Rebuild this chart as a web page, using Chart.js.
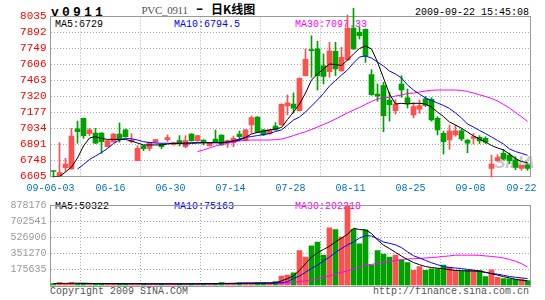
<!DOCTYPE html>
<html>
<head>
<meta charset="utf-8">
<script src="https://cdn.jsdelivr.net/npm/chart.js@4.4.1/dist/chart.umd.min.js"></script>
<style>
  html, body { margin: 0; padding: 0; background: #fff; }
  #wrap { position: relative; width: 545px; height: 300px; overflow: hidden; }
  .t { position: absolute; white-space: nowrap; font-family: "Liberation Mono", monospace; font-size: 10px; line-height: 10px; }
  canvas { position: absolute; left: 0; }
  #priceChart { top: 0; }
  #volumeChart { top: 195px; }
</style>
</head>
<body>
<div id="wrap">
  <div class="t" style="left:51px;top:6px;font-size:13px;line-height:13px;font-weight:bold;letter-spacing:3.2px;">v0911</div>
  <div class="t" style="left:141.5px;top:4.5px;font-family:'Liberation Serif',serif;font-size:11px;line-height:11px;letter-spacing:-0.3px;color:#555;">PVC_0911</div>
  <div class="t" style="left:196px;top:3px;font-family:'Liberation Sans',sans-serif;font-size:12px;line-height:12px;font-weight:bold;transform:scaleX(1.8);transform-origin:left;">-</div>
  <div class="t" style="left:211px;top:3px;font-family:'Noto Sans CJK SC',sans-serif;font-size:12px;line-height:12px;font-weight:bold;">日K线图</div>
  <div class="t" style="left:415px;top:8.3px;">2009-09-22 15:45:08</div>

  <div class="t" style="left:55px;top:19.5px;color:#000;">MA5:6729</div>
  <div class="t" style="left:174px;top:19.5px;color:#0000ff;">MA10:6794.5</div>
  <div class="t" style="left:295px;top:19.5px;color:#ff00ff;">MA30:7097.33</div>

  <div class="t" style="left:55px;top:201.5px;color:#000;">MA5:50322</div>
  <div class="t" style="left:174px;top:201.5px;color:#0000ff;">MA10:75163</div>
  <div class="t" style="left:295px;top:201.5px;color:#ff00ff;">MA30:202218</div>

  <div class="t" style="left:494px;top:154px;font-family:'Liberation Sans Narrow','Liberation Sans',sans-serif;font-size:17px;line-height:17px;font-weight:bold;font-style:italic;color:#c8c8c8;">SINA</div>

  <div class="t" style="left:50px;top:286.5px;color:#555;">Copyright 2009 SINA.COM</div>
  <div class="t" style="left:373px;top:286.5px;color:#555;">http://finance.sina.com.cn</div>

  <canvas id="priceChart" width="545" height="195"></canvas>
  <canvas id="volumeChart" width="545" height="105"></canvas>
</div>

<script>
// trading days shown, 2009-06-03 .. 2009-09-22
const dates = [
  "06-03","06-04","06-05","06-08","06-09","06-10","06-11","06-12","06-15","06-16",
  "06-17","06-18","06-19","06-22","06-23","06-24","06-25","06-26","06-29","06-30",
  "07-01","07-02","07-03","07-06","07-07","07-08","07-09","07-10","07-13","07-14",
  "07-15","07-16","07-17","07-20","07-21","07-22","07-23","07-24","07-27","07-28",
  "07-29","07-30","07-31","08-03","08-04","08-05","08-06","08-07","08-10","08-11",
  "08-12","08-13","08-14","08-17","08-18","08-19","08-20","08-21","08-24","08-25",
  "08-26","08-27","08-28","08-31","09-01","09-02","09-03","09-04","09-07","09-08",
  "09-09","09-10","09-11","09-14","09-15","09-16","09-17","09-18","09-21","09-22"
];

const opens = [
  6655,6610,6685,6672,7030,7125,6988,6994,6994,6871,
  6913,6985,7021,6917,6746,6878,6857,6911,6893,6934,
  6889,6925,6871,6985,6925,6931,6880,6940,6976,6907,
  6907,6985,6925,7065,7137,7021,6985,7056,7065,7235,
  7253,7193,7507,7740,7745,7595,7542,7724,7549,7646,
  7932,7894,7920,7515,7342,7417,7289,7193,7432,7307,
  7155,7206,7300,7295,7125,6991,6931,6976,7014,6931,
  6946,6955,6946,6678,6746,6812,6797,6752,6678,6708
];
const highs = [
  6656,6907,6768,7036,7101,7128,7036,7036,6998,6930,
  6990,7083,7030,6988,6880,6880,6913,6938,6898,6976,
  6910,6970,6970,6988,6973,6934,6910,7021,6979,6931,
  6967,7012,7025,7146,7140,7025,7025,7086,7255,7333,
  7352,7487,7745,7863,7813,7700,7804,7804,7760,8048,
  8108,7940,7925,7560,7432,7447,7357,7292,7506,7387,
  7265,7290,7320,7310,7140,7010,7065,7065,7030,6935,
  6990,6970,6960,6797,6800,6848,6815,6780,6700,6720
];
const lows = [
  6600,6605,6650,6670,6902,6946,6970,6900,6812,6868,
  6910,6911,6955,6907,6746,6836,6836,6908,6854,6918,
  6885,6878,6862,6920,6918,6887,6876,6912,6884,6866,
  6871,6925,6922,6991,6998,6970,6982,7018,7062,7155,
  7172,7190,7503,7492,7378,7432,7492,7507,7546,7640,
  7740,7834,7625,7330,7277,7005,7100,7164,7313,7217,
  7130,7170,7230,7100,6976,6806,6848,6965,6925,6818,
  6895,6900,6900,6600,6740,6750,6720,6665,6660,6660
];
const closes = [
  6650,6640,6717,6967,7005,6970,7021,6902,6917,6925,
  6985,6940,6961,6931,6857,6854,6911,6935,6871,6952,
  6907,6907,6925,6925,6970,6916,6907,6916,6887,6925,
  6946,6961,7021,7131,7000,6976,7021,7021,7251,7264,
  7215,7483,7653,7730,7507,7500,7729,7566,7671,7932,
  7745,7863,7685,7336,7322,7148,7247,7253,7378,7259,
  7229,7238,7240,7110,7021,6916,7014,7014,6940,6902,
  6961,6922,6911,6717,6773,6759,6746,6687,6708,6678
];

const ma5 = [
  6605,6605,6645,6690,6770,6878,6949,6961,6945,6937,
  6937,6936,6936,6922,6904,6887,6887,6887,6887,6895,
  6902,6902,6904,6907,6907,6907,6907,6907,6907,6913,
  6922,6931,6954,6985,6998,7009,7021,7030,7043,7114,
  7181,7253,7351,7467,7521,7566,7610,7606,7597,7646,
  7700,7749,7771,7745,7628,7485,7342,7253,7259,7253,
  7259,7259,7253,7226,7181,7141,7092,7065,7036,7003,
  6967,6940,6913,6882,6860,6842,6806,6765,6738,6729
];
const ma10 = [
  null,null,null,null,6672,6712,6757,6788,6820,6855,
  6900,6931,6946,6942,6931,6916,6909,6904,6902,6902,
  6900,6900,6895,6900,6904,6907,6907,6907,6907,6913,
  6925,6940,6955,6962,6971,6980,6989,7007,7021,7065,
  7110,7137,7181,7235,7289,7347,7414,7463,7512,7557,
  7619,7673,7682,7664,7628,7592,7548,7521,7485,7423,
  7378,7342,7307,7284,7262,7240,7213,7173,7128,7074,
  7047,7016,6989,6958,6927,6895,6851,6828,6812,6794.5
];
const ma30 = [
  null,null,null,null,null,null,null,null,null,null,
  null,null,null,null,null,null,null,null,null,null,
  null,null,null,null,6828,6842,6860,6878,6891,6902,
  6913,6922,6929,6931,6931,6931,6931,6934,6940,6954,
  6971,6989,7005,7025,7047,7070,7092,7119,7146,7173,
  7199,7222,7249,7275,7298,7307,7313,7324,7333,7347,
  7351,7360,7369,7375,7378,7378,7378,7378,7374,7365,
  7351,7336,7320,7302,7280,7249,7217,7177,7139,7097.33
];

const volumes = [
  20000,32000,18000,33000,20000,22000,18000,19000,20000,17000,
  18000,20000,19000,18000,20000,18000,17000,18000,19000,18000,
  17000,20000,18000,20000,19000,21000,22000,19000,33000,18000,
  20000,28000,28000,27000,28000,28000,27000,44000,103000,114000,
  138000,382000,310000,434000,475000,331000,630000,610000,527000,870000,
  613000,455000,606000,224000,382000,344000,310000,331000,276000,251000,
  165000,207000,165000,183000,183000,224000,200000,165000,158000,165000,
  165000,165000,96000,172000,90000,76000,73000,69000,69000,55000
];
const volMa5 = [
  21000,23000,23000,24000,25000,24000,22000,20000,20000,19000,
  19000,19000,19000,19000,19000,19000,18000,18000,18000,18000,
  18000,18000,18000,19000,19000,20000,20000,21000,23000,23000,
  24000,26000,27000,27000,28000,28000,28000,30000,50000,75000,
  105000,165000,238000,310000,356000,393000,429000,475000,517000,558000,
  625000,610000,606000,568000,496000,441000,403000,362000,320000,284000,
  251000,227000,207000,196000,189000,183000,172000,165000,162000,158000,
  158000,155000,145000,129000,114000,96000,83000,67000,57000,50322
];
const volMa10 = [
  null,null,null,null,22000,23000,23000,22000,22000,22000,
  21000,21000,20000,20000,20000,19000,19000,19000,19000,19000,
  19000,18000,18000,18000,18000,19000,19000,19000,20000,20000,
  21000,22000,23000,24000,25000,25000,26000,27000,31000,41000,
  77000,103000,145000,186000,222000,269000,310000,362000,403000,444000,
  475000,517000,544000,540000,511000,475000,460000,444000,413000,367000,
  325000,300000,274000,248000,227000,207000,196000,191000,184000,176000,
  168000,155000,142000,131000,124000,111000,98000,90000,83000,75163
];
const volMa30 = [
  null,null,null,null,null,null,null,null,null,null,
  null,null,null,null,null,null,null,null,null,null,
  null,null,null,null,19000,19000,20000,20000,21000,21000,
  21000,21000,22000,22000,22000,22000,22000,23000,24000,27000,
  36000,41000,52000,62000,75000,90000,103000,124000,145000,160000,
  181000,204000,220000,230000,241000,251000,261000,272000,284000,289000,
  292000,296000,300000,305000,310000,317000,323000,331000,331000,331000,
  331000,329000,323000,317000,310000,300000,284000,265000,238000,202218
];

const priceTicks = [6605, 6748, 6891, 7034, 7177, 7320, 7463, 7606, 7749, 7892, 8035];
const volumeTicks = [175635, 351270, 526906, 702541, 878176];
const xTickLabels = ["09-06-03", "06-16", "06-30", "07-14", "07-28", "08-11", "08-25", "09-08", "09-22"];
const xTickSlots = [0, 10, 20, 30, 40, 50, 60, 70, 78.5];

const RED = "#ff5050";
const GREEN = "#00a000";
const GRID = "#a8a8a8";
const MONO = "'Liberation Mono', monospace";

Chart.defaults.font.family = MONO;

const slot = i => i + 0.5;
const points = arr => arr.map((v, i) => ({ x: slot(i), y: v }));
const candleColors = opens.map((o, i) => closes[i] >= o ? RED : GREEN);

/* plot box round the chart area */
const framePlugin = {
  id: "frame",
  beforeDatasetsDraw(chart) {
    const { ctx, chartArea: a } = chart;
    ctx.save();
    ctx.strokeStyle = "#999";
    ctx.lineWidth = 1;
    ctx.strokeRect(Math.floor(a.left) + 0.5, Math.floor(a.top) + 0.5,
      Math.round(a.right - a.left), Math.round(a.bottom - a.top));
    ctx.restore();
  }
};

function maLine(data, color) {
  return {
    type: "line",
    data: points(data),
    borderColor: color,
    borderWidth: 1,
    pointRadius: 0,
    tension: 0,
    order: 0
  };
}

function xScale(showLabels, height) {
  return {
    type: "linear",
    min: 0,
    max: dates.length,
    offset: false,
    afterBuildTicks: s => { s.ticks = xTickSlots.map(v => ({ value: v })); },
    afterFit: s => { s.height = height; },
    grid: {
      color: c => (c.tick && c.tick.value > 0 && c.tick.value < 75) ? GRID : "transparent",
      drawTicks: false
    },
    border: { display: false, dash: [1, 2] },
    ticks: {
      display: showLabels,
      autoSkip: false,
      maxRotation: 0,
      padding: 6,
      color: "#0070c0",
      font: { family: MONO, size: 10 },
      callback: (v, k) => xTickLabels[k]
    }
  };
}

function yScale(min, max, tickValues, color, size) {
  return {
    min: min,
    max: max,
    afterBuildTicks: s => { s.ticks = tickValues.map(v => ({ value: v })); },
    afterFit: s => { s.width = 50.5; },
    grid: {
      color: c => (c.tick && c.tick.value > min && c.tick.value < max) ? GRID : "transparent",
      drawTicks: false
    },
    border: { display: false, dash: [1, 2] },
    ticks: {
      autoSkip: false,
      padding: 4,
      color: color,
      font: { family: MONO, size: size },
      callback: v => String(v)
    }
  };
}

const baseOptions = {
  responsive: false,
  animation: false,
  devicePixelRatio: 1,
  events: [],
  plugins: { legend: { display: false }, tooltip: { enabled: false } }
};

/* ================================
   PRICE PANEL (candles + MA)
================================ */
new Chart(document.getElementById("priceChart"), {
  type: "bar",
  data: {
    datasets: [
      maLine(ma5, "#000000"),
      maLine(ma10, "#0000ff"),
      maLine(ma30, "#ff00ff"),
      {
        data: opens.map((o, i) => ({ x: slot(i), y: [o, closes[i]] })),
        backgroundColor: candleColors,
        barThickness: 5,
        minBarLength: 1,
        grouped: false,
        order: 1
      },
      {
        data: lows.map((l, i) => ({ x: slot(i), y: [l, highs[i]] })),
        backgroundColor: candleColors,
        barThickness: 1,
        grouped: false,
        clip: false,
        order: 2
      }
    ]
  },
  options: {
    ...baseOptions,
    layout: { padding: { top: 16.5, right: 14.5, left: 0, bottom: 0 } },
    scales: {
      x: xScale(true, 18.5),
      y: yScale(priceTicks[0], priceTicks[priceTicks.length - 1], priceTicks, "#ff0000", 11)
    }
  },
  plugins: [framePlugin]
});

/* ================================
   VOLUME PANEL
================================ */
new Chart(document.getElementById("volumeChart"), {
  type: "bar",
  data: {
    datasets: [
      maLine(volMa5, "#000000"),
      maLine(volMa10, "#0000ff"),
      maLine(volMa30, "#ff00ff"),
      {
        data: volumes.map((v, i) => ({ x: slot(i), y: v })),
        backgroundColor: candleColors,
        barThickness: 5,
        grouped: false,
        order: 1
      }
    ]
  },
  options: {
    ...baseOptions,
    layout: { padding: { top: 6.5, right: 14.5, left: 0, bottom: 0 } },
    scales: {
      x: xScale(false, 14.5),
      y: yScale(0, volumeTicks[volumeTicks.length - 1], volumeTicks, "#999999", 10)
    }
  },
  plugins: [framePlugin]
});
</script>
</body>
</html>
